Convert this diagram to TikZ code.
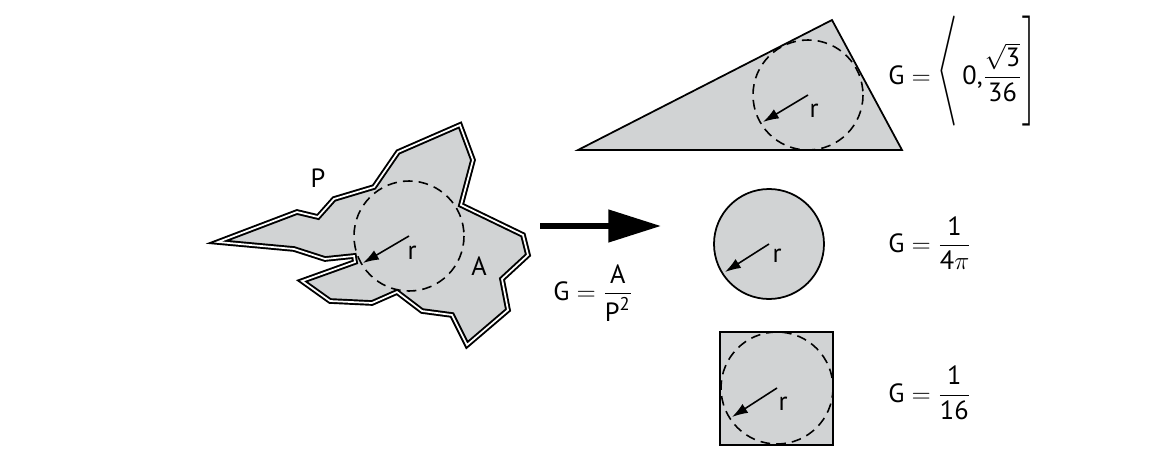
\documentclass[tikz,border=0pt]{standalone}
\usepackage{fontspec}
\setmainfont{PT Sans}
\usepackage{amsmath}
\usepackage{graphicx}
\usetikzlibrary{arrows.meta}
\definecolor{shapegray}{RGB}{209,211,212}
\newcommand{\tallbr}[1]{\smash{\raisebox{2.2pt}{\scalebox{1}[1.45]{$\Bigg#1$}}}}
\begin{document}
\begin{tikzpicture}[
x=0.02cm, y=-0.02cm,
every node/.style = {font=\fontsize{15}{17}\selectfont, inner sep=0pt},
shapefill/.style = {fill=shapegray, draw=black, line width=1pt, line join=miter},
outline/.style = {fill=shapegray, draw=black, double=white, double distance=1pt, line width=1.1pt, line join=miter},
incircle/.style = {dash pattern=on 5.5pt off 3.5pt, line width=0.9pt},
radiusarrow/.style = {-{Latex[length=9pt,width=6pt]}, line width=0.9pt},
formula/.style = {anchor=west},
]
\useasboundingbox (0,0) rectangle (1160,450);

% irregular shape
\draw[outline] (218,242) -- (297,212) -- (318,217) -- (334,199) -- (374,187)
  -- (398,152) -- (460,125) -- (473,160) -- (461,205) -- (523,235) -- (528,255)
  -- (502,279) -- (508,310) -- (467,345) -- (452,315) -- (422,311) -- (397,292)
  -- (372,303) -- (330,301) -- (302,281) -- (355,262) -- (354,256) -- (325,259)
  -- (294,249) -- cycle;
\coordinate (polyc) at (409,236);
\coordinate (polyr) at (363,263);
\draw[incircle] (polyc) circle[radius=55];
\draw[radiusarrow] (polyc) -- (polyr);
\node (polyrl) at (412,253) {r};
\node (perim) at (318,178) {P};
\node (area) at (479,266) {A};

% mapping
\coordinate (arrowstart) at (540,226);
\coordinate (arrowend) at (661,226);
\draw[line width=3.3pt, -{Triangle[length=30pt,width=18pt]}] (arrowstart) -- (arrowend);
\node[formula] (gdef) at (553,293) {$\text{G} = \dfrac{\text{A}}{\text{P}^{\text{2}}}$};

% triangle
\draw[shapefill] (578,150) -- (832,20) -- (902,150) -- cycle;
\coordinate (tric) at (808,95);
\coordinate (trir) at (763,122);
\draw[incircle] (tric) circle[radius=55];
\draw[radiusarrow] (tric) -- (trir);
\node (trirl) at (814,111) {r};
\node[anchor=base west] (trig) at (888,84) {$\text{G} = \tallbr\langle\,\text{0,}\dfrac{\sqrt{\text{3}}}{\text{36}}\tallbr]$};

% circle
\coordinate (circc) at (769,244);
\coordinate (circr) at (725,272);
\draw[shapefill] (circc) circle[radius=55];
\draw[radiusarrow] (circc) -- (circr);
\node (circrl) at (777,256) {r};
\node[formula] (circg) at (888,243) {$\text{G} = \dfrac{\text{1}}{\text{4}\pi}$};

% square
\draw[shapefill] (720,332) rectangle (833,445);
\coordinate (squc) at (777,388);
\coordinate (squr) at (732,417);
\draw[incircle] (squc) circle[radius=56];
\draw[radiusarrow] (squc) -- (squr);
\node (squrl) at (783,404) {r};
\node[formula] (squg) at (888,393) {$\text{G} = \dfrac{\text{1}}{\text{16}}$};
\end{tikzpicture}
\end{document}
